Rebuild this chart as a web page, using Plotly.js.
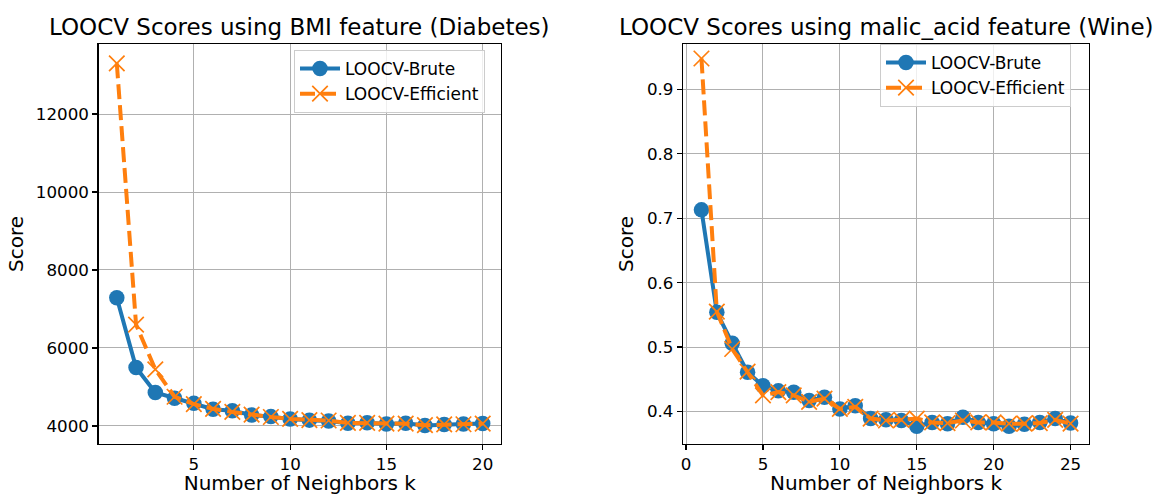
<!DOCTYPE html>
<html>
<head>
<meta charset="utf-8">
<script src="https://cdn.plot.ly/plotly-3.0.1.min.js"></script>
<style>html,body{margin:0;padding:0;background:#fff;}#chart{width:1158px;height:495px;}</style>
</head>
<body>
<div id="chart"></div>
<script>
// Diabetes (BMI feature)
const kDiabetes = [1,2,3,4,5,6,7,8,9,10,11,12,13,14,15,16,17,18,19,20];
const diabetesBrute = [7290,5500,4860,4710,4580,4430,4390,4280,4240,4180,4150,4130,4070,4085,4050,4070,4010,4040,4050,4065];
const diabetesEfficient = [13300,6600,5450,4750,4560,4440,4360,4290,4230,4180,4150,4140,4080,4080,4060,4060,4020,4040,4045,4060];

// Wine (malic_acid feature)
const kWine = [1,2,3,4,5,6,7,8,9,10,11,12,13,14,15,16,17,18,19,20,21,22,23,24,25];
const wineBrute = [0.713,0.554,0.506,0.461,0.440,0.432,0.430,0.417,0.422,0.404,0.409,0.389,0.387,0.386,0.377,0.383,0.381,0.391,0.383,0.381,0.377,0.380,0.383,0.389,0.382];
const wineEfficient = [0.948,0.555,0.497,0.462,0.425,0.430,0.425,0.415,0.420,0.404,0.407,0.389,0.386,0.387,0.389,0.383,0.382,0.386,0.383,0.383,0.381,0.381,0.382,0.387,0.381];

const seriesNames = ['LOOCV-Brute', 'LOOCV-Efficient'];
const titles = ['LOOCV Scores using BMI feature (Diabetes)', 'LOOCV Scores using malic_acid feature (Wine)'];
const xLabel = 'Number of Neighbors k';
const yLabel = 'Score';

const BLUE = '#1f77b4', ORANGE = '#ff7f0e';
const FONT = 'DejaVu Sans, sans-serif';

function bruteTrace(x, y, xa, ya, lg) {
  return {x: x, y: y, xaxis: xa, yaxis: ya, legend: lg, name: seriesNames[0], mode: 'lines+markers',
    type: 'scatter', line: {color: BLUE, width: 4},
    marker: {symbol: 'circle', size: 15.5, color: BLUE}};
}
function effTrace(x, y, xa, ya, lg) {
  return {x: x, y: y, xaxis: xa, yaxis: ya, legend: lg, name: seriesNames[1], mode: 'lines+markers',
    type: 'scatter', line: {color: ORANGE, width: 4, dash: '15px,6px'},
    marker: {symbol: 'x-thin', size: 15.5, color: ORANGE, line: {color: ORANGE, width: 1.7}}};
}

const data = [
  bruteTrace(kDiabetes, diabetesBrute, 'x', 'y', 'legend'),
  effTrace(kDiabetes, diabetesEfficient, 'x', 'y', 'legend'),
  bruteTrace(kWine, wineBrute, 'x2', 'y2', 'legend2'),
  effTrace(kWine, wineEfficient, 'x2', 'y2', 'legend2')
];

const W = 1158, H = 495;
const yDom = [1 - 444/H, 1 - 44/H];

function axisBase() {
  return {
    showline: true, mirror: true, linecolor: '#000', linewidth: 1.2,
    showgrid: true, gridcolor: '#b0b0b0', gridwidth: 1,
    zeroline: false, ticks: 'outside', ticklen: 5, tickwidth: 1.2, tickcolor: '#000',
    tickfont: {family: FONT, size: 16.7, color: '#000'},
    automargin: false
  };
}

const legendBase = {xanchor: 'left', yanchor: 'top', bgcolor: 'rgba(255,255,255,0.8)',
  bordercolor: '#cccccc', borderwidth: 1, font: {family: FONT, size: 17, color: '#000'},
  tracegroupgap: 0, itemwidth: 40};

const layout = {
  width: W, height: H,
  margin: {l: 0, r: 0, t: 0, b: 0},
  paper_bgcolor: '#fff', plot_bgcolor: '#fff',
  font: {family: FONT, color: '#000'},
  xaxis: Object.assign(axisBase(), {domain: [98.5/W, 501/W], range: [0.05, 20.95], tick0: 0, dtick: 5, anchor: 'y',
    title: {text: xLabel, font: {family: FONT, size: 20, color: '#000'}, standoff: 7}}),
  yaxis: Object.assign(axisBase(), {domain: yDom, range: [3538, 13795], tick0: 0, dtick: 2000, tickformat: 'd', anchor: 'x',
    title: {text: yLabel, font: {family: FONT, size: 20, color: '#000'}, standoff: 6}}),
  xaxis2: Object.assign(axisBase(), {domain: [683/W, 1089/W], range: [-0.2, 26.2], tick0: 0, dtick: 5, anchor: 'y2',
    title: {text: xLabel, font: {family: FONT, size: 20, color: '#000'}, standoff: 7}}),
  yaxis2: Object.assign(axisBase(), {domain: yDom, range: [0.3495, 0.9705], tick0: 0, dtick: 0.1, tickformat: '.1f', anchor: 'x2',
    title: {text: yLabel, font: {family: FONT, size: 20, color: '#000'}, standoff: 8}}),
  legend: Object.assign({}, legendBase, {x: 294/W, y: 1 - 50/H}),
  legend2: Object.assign({}, legendBase, {x: 880/W, y: 1 - 44/H}),
  annotations: [
    {text: titles[0], xref: 'paper', yref: 'paper', x: 299.7/W, y: 1 - 27/H, xanchor: 'center', yanchor: 'middle',
      showarrow: false, font: {family: FONT, size: 23, color: '#000'}},
    {text: titles[1], xref: 'paper', yref: 'paper', x: 886/W, y: 1 - 27/H, xanchor: 'center', yanchor: 'middle',
      showarrow: false, font: {family: FONT, size: 23, color: '#000'}}
  ]
};

Plotly.newPlot('chart', data, layout, {displayModeBar: false, staticPlot: true});
</script>
</body>
</html>
